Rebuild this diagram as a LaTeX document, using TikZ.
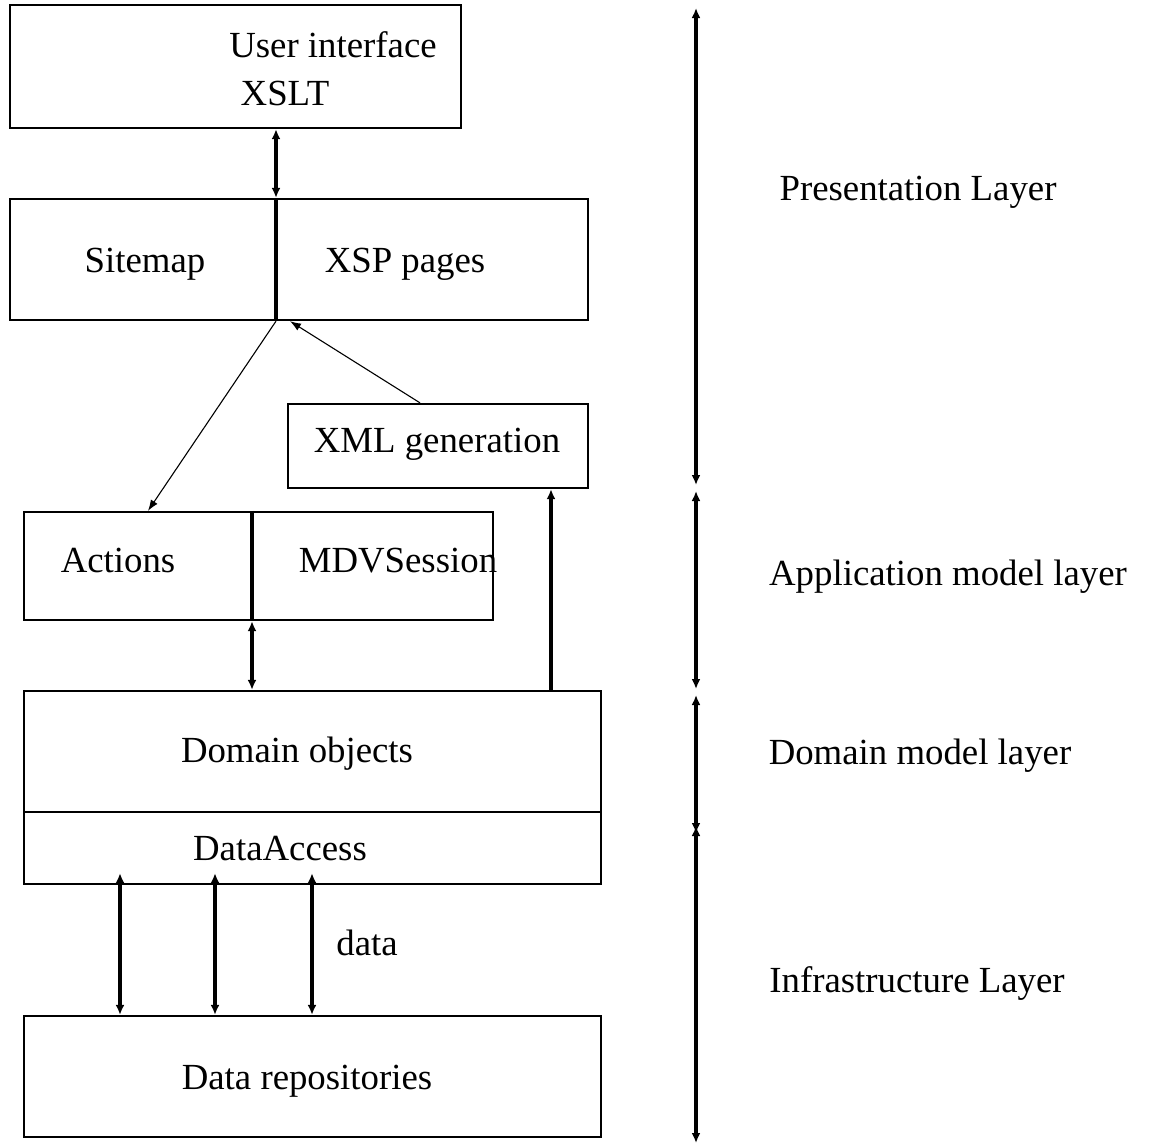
\documentclass[tikz,border=0pt]{standalone}
\usepackage{fontspec}
\setmainfont{Liberation Serif}
\usetikzlibrary{arrows.meta}
\begin{document}
\begin{tikzpicture}[x=0.5pt,y=-0.5pt,
  box/.style={draw, line width=1.15pt, inner sep=0pt},
  lbl/.style={anchor=base, inner sep=0pt, font=\fontsize{18.4}{22}\selectfont},
  thickln/.style={line width=1.7pt},
  thinln/.style={line width=0.55pt},
  dbl/.style={{Latex[length=5pt,width=4.5pt]}-{Latex[length=5pt,width=4.5pt]}},
  sgl/.style={-{Latex[length=5pt,width=4.5pt]}},
  sglthin/.style={-{Latex[length=5.5pt,width=4pt]}}]
\useasboundingbox (0,0) rectangle (1150,1147);
% boxes
\node[box, minimum width=225.5pt, minimum height=61.5pt] (ui) at (235.5,66.5) {};
\node[box, minimum width=289pt, minimum height=60.5pt] (sitemap) at (299,259.5) {};
\node[box, minimum width=150pt, minimum height=42pt] (xml) at (438,446) {};
\node[box, minimum width=234.5pt, minimum height=54pt] (actions) at (258.5,566) {};
\node[box, minimum width=288.5pt, minimum height=60.5pt] (domain) at (312.5,751.5) {};
\node[box, minimum width=288.5pt, minimum height=36pt] (dacc) at (312.5,848) {};
\node[box, minimum width=288.5pt, minimum height=60.5pt] (repos) at (312.5,1076.5) {};
% labels
\node[lbl] (tUI) at (333,57) {User interface};
\node[lbl] (tXSLT) at (285,105) {XSLT};
\node[lbl] (tSitemap) at (145,272) {Sitemap};
\node[lbl] (tXSP) at (405,272) {XSP pages};
\node[lbl] (tXML) at (437,452) {XML generation};
\node[lbl] (tActions) at (118,572) {Actions};
\node[lbl] (tMDV) at (398,572) {MDVSession};
\node[lbl] (tDomain) at (297,762) {Domain objects};
\node[lbl] (tDacc) at (280,860) {DataAccess};
\node[lbl] (tData) at (367,955) {data};
\node[lbl] (tRepos) at (307,1089) {Data repositories};
\node[lbl] (lPres) at (918,200) {Presentation Layer};
\node[lbl] (lApp) at (948,585) {Application model layer};
\node[lbl] (lDom) at (920,764) {Domain model layer};
\node[lbl] (lInf) at (917,992) {Infrastructure Layer};
% helper x positions
\coordinate (x1) at (276,0);
\coordinate (x2) at (148,0);
\coordinate (x3) at (420,0);
\coordinate (x4) at (290,0);
\coordinate (x5) at (252,0);
\coordinate (x6) at (551,0);
\coordinate (d1) at (120,0);
\coordinate (d2) at (215,0);
\coordinate (d3) at (312,0);
% connectors
\draw[thickln, dbl] (ui.south -| x1) -- (sitemap.north -| x1);
\draw[thickln] (sitemap.north -| x1) -- (sitemap.south -| x1);
\draw[thinln, sglthin] (sitemap.south -| x1) -- (actions.north -| x2);
\draw[thinln, sglthin] (xml.north -| x3) -- (sitemap.south -| x4);
\draw[thickln] (actions.north -| x5) -- (actions.south -| x5);
\draw[thickln, dbl] (actions.south -| x5) -- (domain.north -| x5);
\draw[thickln, sgl] (domain.north -| x6) -- (xml.south -| x6);
\foreach \d in {d1,d2,d3}
  \draw[thickln, dbl, shorten <=-6pt] (dacc.south -| \d) -- (repos.north -| \d);
% right layer axis
\coordinate (r0) at (696,8);
\coordinate (r1) at (696,485);
\coordinate (r2) at (696,491);
\coordinate (r3) at (696,689);
\coordinate (r4) at (696,695);
\coordinate (r5) at (696,833);
\coordinate (r6) at (696,826);
\coordinate (r7) at (696,1143);
\draw[thickln, dbl] (r0) -- (r1);
\draw[thickln, dbl] (r2) -- (r3);
\draw[thickln, dbl] (r4) -- (r5);
\draw[thickln, dbl] (r6) -- (r7);
\end{tikzpicture}
\end{document}
